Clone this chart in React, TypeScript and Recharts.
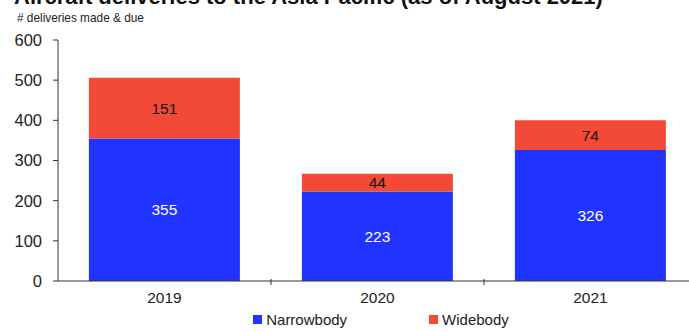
import { BarChart, Bar, XAxis, YAxis, LabelList, Legend } from 'recharts';

const years = ['2019', '2020', '2021'];
const narrowbody = [355, 223, 326];
const widebody = [151, 44, 74];
const yTicks = [0, 100, 200, 300, 400, 500, 600];

const BLUE = '#2033ff';
const RED = '#f24a36';
const FONT = '"Liberation Sans", Arial, sans-serif';

const CHART_W = 697;
const CHART_H = 332;
const Y_AXIS_W = 58;
const BAND = (CHART_W - Y_AXIS_W) / years.length;

const data = years.map((year, i) => ({
  year,
  narrowbody: narrowbody[i],
  widebody: widebody[i],
}));

// category labels with small tick marks at the band boundaries
function YearTick(props: any) {
  const { x, y, payload } = props;
  return (
    <g>
      <line x1={x + BAND / 2} x2={x + BAND / 2} y1={y - 10} y2={y - 4} stroke="#333" />
      <text x={x} y={y + 14} textAnchor="middle" fontSize={15.5} fill="#222" fontFamily={FONT}>
        {payload.value}
      </text>
    </g>
  );
}

function LegendContent() {
  const items = [
    { label: 'Narrowbody', color: BLUE },
    { label: 'Widebody', color: RED },
  ];
  return (
    <div style={{ display: 'flex', justifyContent: 'center', gap: 82, paddingLeft: 7, fontFamily: FONT, fontSize: 15, color: '#222' }}>
      {items.map((it) => (
        <div key={it.label} style={{ display: 'flex', alignItems: 'center' }}>
          <span style={{ width: 9, height: 9, background: it.color, display: 'inline-block', marginRight: 4 }} />
          {it.label}
        </div>
      ))}
    </div>
  );
}

export default function App() {
  return (
    <div style={{ position: 'absolute', left: 0, top: 0, width: 689, height: 332, overflow: 'hidden', background: '#fff' }}>
      <div style={{ position: 'absolute', left: 14, top: -16, fontFamily: FONT, fontWeight: 700, fontSize: 22, whiteSpace: 'nowrap', color: '#111' }}>
        Aircraft deliveries to the Asia Pacific (as of August 2021)
      </div>
      <div style={{ position: 'absolute', left: 17, top: 10, fontFamily: FONT, fontSize: 13, whiteSpace: 'nowrap', color: '#222', transform: 'scaleX(0.91)', transformOrigin: 'left center' }}>
        # deliveries made &amp; due
      </div>
      <BarChart
        width={CHART_W}
        height={CHART_H}
        data={data}
        margin={{ top: 40, right: 0, left: 0, bottom: 0 }}
        barCategoryGap="14.5%"
      >
        <YAxis
          width={Y_AXIS_W}
          domain={[0, 600]}
          ticks={yTicks}
          interval={0}
          tick={{ fontSize: 16.5, fill: '#222', fontFamily: FONT }}
          axisLine={{ stroke: '#333' }}
          tickLine={{ stroke: '#333' }}
          tickSize={5}
          tickMargin={11}
        />
        <XAxis
          dataKey="year"
          height={30}
          axisLine={{ stroke: '#333' }}
          tickLine={false}
          tick={<YearTick />}
        />
        <Legend
          verticalAlign="bottom"
          height={21}
          wrapperStyle={{ left: Y_AXIS_W, width: CHART_W - Y_AXIS_W }}
          content={<LegendContent />}
        />
        <Bar dataKey="narrowbody" stackId="a" fill={BLUE} isAnimationActive={false}>
          <LabelList dataKey="narrowbody" position="center" fill="#fff" fontSize={15.5} fontFamily={FONT} />
        </Bar>
        <Bar dataKey="widebody" stackId="a" fill={RED} isAnimationActive={false}>
          <LabelList dataKey="widebody" position="center" fill="#111" fontSize={15.5} fontFamily={FONT} />
        </Bar>
      </BarChart>
    </div>
  );
}
